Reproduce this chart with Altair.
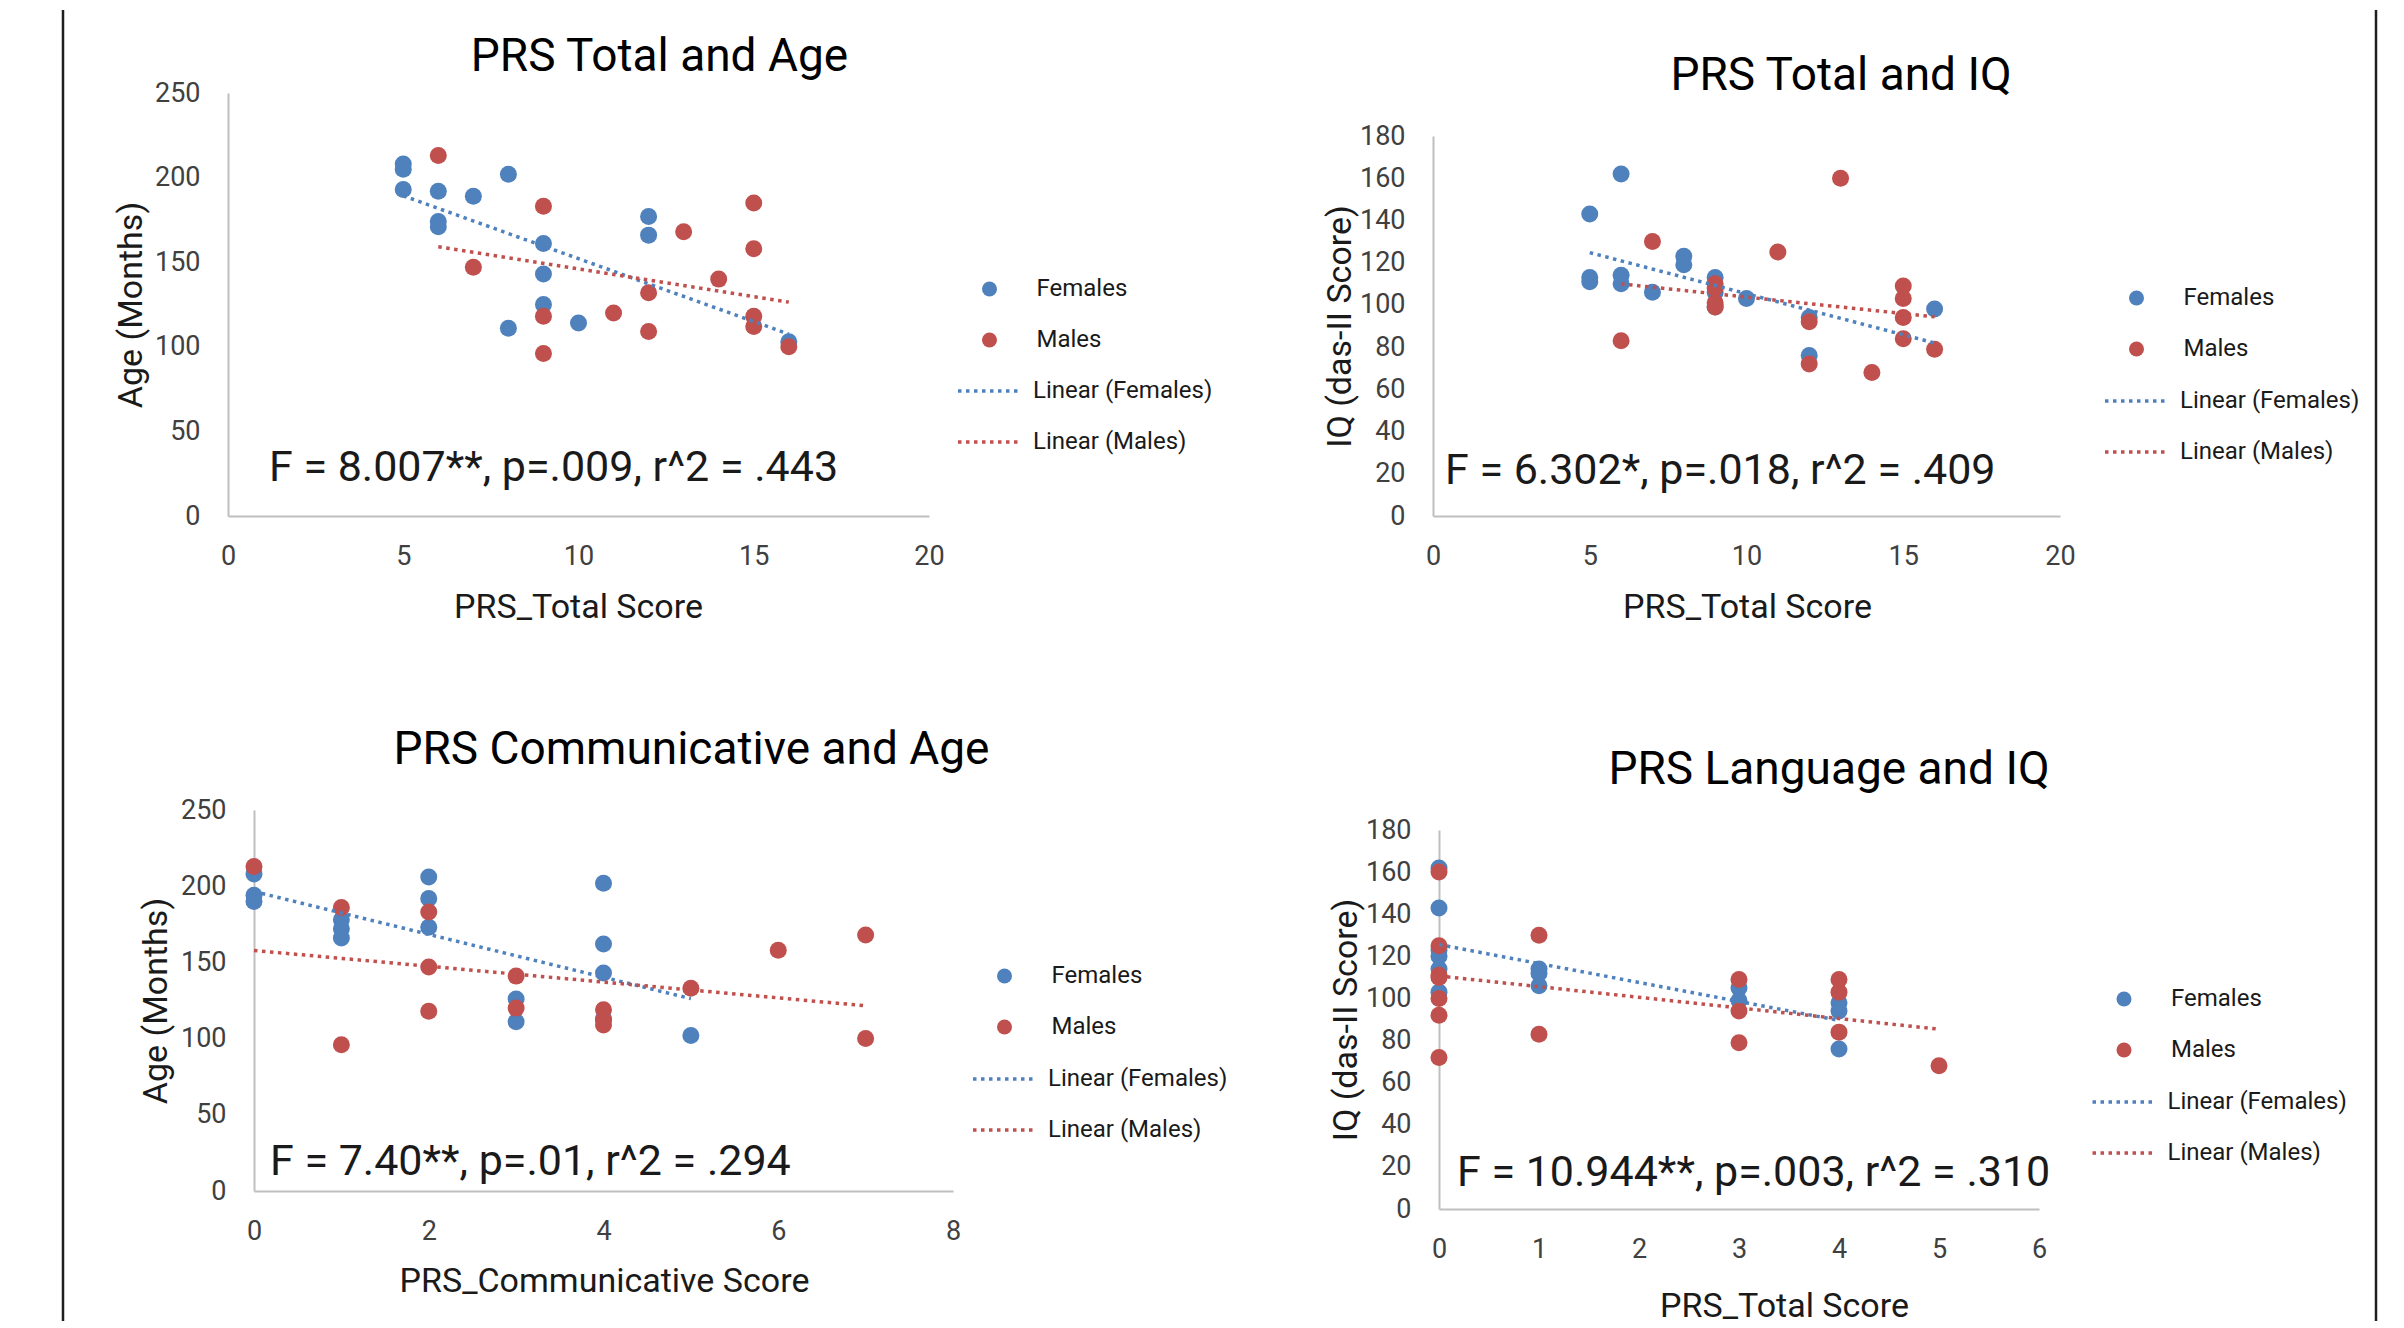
import altair as alt
import pandas as pd

BLUE = "#4F81BD"
RED = "#C0504D"
FONT = "Roboto"

# ---------------- data ----------------
# Panel 1: PRS Total and Age
p1_f_x = [5, 5, 5, 6, 6, 6, 7, 8, 8, 9, 9, 9, 10, 12, 12, 16]
p1_f_y = [208, 205, 193, 192, 174, 171, 189, 202, 111, 161, 143, 125, 114, 177, 166, 103]
p1_m_x = [6, 7, 9, 9, 9, 11, 12, 12, 13, 14, 15, 15, 15, 15, 16]
p1_m_y = [213, 147, 183, 118, 96, 120, 132, 109, 168, 140, 185, 158, 118, 112, 100]

# Panel 2: PRS Total and IQ
p2_f_x = [5, 5, 5, 6, 6, 6, 7, 8, 8, 9, 9, 9, 10, 12, 12, 16]
p2_f_y = [143, 113, 111, 162, 114, 110, 106, 123, 119, 113, 106, 99, 103, 94, 76, 98]
p2_m_x = [6, 7, 9, 9, 9, 9, 11, 12, 12, 13, 14, 15, 15, 15, 15, 16]
p2_m_y = [83, 130, 110, 108, 101, 99, 125, 92, 72, 160, 68, 109, 103, 94, 84, 79]

# Panel 3: PRS Communicative and Age
p3_f_x = [0, 0, 0, 1, 1, 1, 2, 2, 2, 3, 3, 4, 4, 4, 4, 5]
p3_f_y = [208, 194, 190, 178, 172, 166, 206, 192, 173, 126, 111, 202, 162, 143, 113, 102]
p3_m_x = [0, 1, 1, 2, 2, 2, 3, 3, 4, 4, 4, 5, 6, 7, 7]
p3_m_y = [213, 186, 96, 183, 147, 118, 141, 120, 119, 112, 109, 133, 158, 168, 100]

# Panel 4: PRS Language and IQ
p4_f_x = [0, 0, 0, 0, 0, 0, 1, 1, 1, 3, 3, 4, 4, 4]
p4_f_y = [162, 143, 123, 120, 114, 103, 114, 112, 106, 105, 99, 98, 94, 76]
p4_m_x = [0, 0, 0, 0, 0, 0, 0, 1, 1, 3, 3, 3, 4, 4, 4, 5]
p4_m_y = [160, 125, 111, 110, 100, 92, 72, 130, 83, 109, 94, 79, 109, 103, 84, 68]

titles = ["PRS Total and Age", "PRS Total and IQ",
          "PRS Communicative and Age", "PRS Language and IQ"]
x_titles = ["PRS_Total Score", "PRS_Total Score",
            "PRS_Communicative Score", "PRS_Total Score"]
y_titles = ["Age (Months)", "IQ (das-II Score)", "Age (Months)", "IQ (das-II Score)"]
stats = ["F = 8.007**, p=.009, r^2 = .443",
         "F = 6.302*, p=.018, r^2 = .409",
         "F = 7.40**, p=.01, r^2 = .294",
         "F = 10.944**, p=.003, r^2 = .310"]
x_ticks = [[0, 5, 10, 15, 20], [0, 5, 10, 15, 20], [0, 2, 4, 6, 8], [0, 1, 2, 3, 4, 5, 6]]
y_ticks = [[0, 50, 100, 150, 200, 250], list(range(0, 181, 20)),
           [0, 50, 100, 150, 200, 250], list(range(0, 181, 20))]
series_names = ["Females", "Males"]
trend_names = ["Linear (Females)", "Linear (Males)"]


def make_panel(fx, fy, mx, my, k, W, H, xr, yr, yoff, tx, ty,
               xtX, xtY, ytX, annx, anny, lpx, lpy, llx, lly, rule_x=None):
    df = pd.DataFrame({
        "x": fx + mx,
        "y": fy + my,
        "series": [series_names[0]] * len(fx) + [series_names[1]] * len(mx),
    })
    xt = x_ticks[k]
    yt = y_ticks[k]
    xs = alt.Scale(domain=[xt[0], xt[-1]], range=xr, nice=False, zero=False)
    ys = alt.Scale(domain=[yt[0], yt[-1]], range=yr, nice=False, zero=False)
    xaxis = alt.Axis(values=xt, grid=False, ticks=False, domainColor="#BFBFBF",
                     domainWidth=2, labelFontSize=27, labelColor="#404040",
                     labelPadding=27, labelFlush=False, labelOverlap=False,
                     title=x_titles[k], titleFontSize=34, titleFontWeight="normal",
                     titleColor="#1a1a1a", titleX=xtX, titleY=xtY,
                     titleBaseline="middle")
    yaxis = alt.Axis(values=yt, grid=False, ticks=False, domainColor="#BFBFBF",
                     domainWidth=2, labelFontSize=27, labelColor="#404040",
                     labelPadding=28, labelOverlap=False, offset=yoff,
                     title=y_titles[k], titleFontSize=34, titleFontWeight="normal",
                     titleColor="#1a1a1a", titleX=ytX, titleBaseline="middle")
    X = alt.X("x:Q", scale=xs, axis=xaxis)
    Y = alt.Y("y:Q", scale=ys, axis=yaxis)
    base = alt.Chart(df)
    pts = base.mark_circle(size=289, opacity=1).encode(
        x=X, y=Y,
        color=alt.Color("series:N",
                        scale=alt.Scale(domain=series_names, range=[BLUE, RED]),
                        legend=alt.Legend(title=None, orient="none", legendX=lpx,
                                          legendY=lpy, symbolType="circle",
                                          symbolSize=225, symbolStrokeWidth=0,
                                          labelFontSize=24, labelColor="#1a1a1a",
                                          labelOffset=35, rowPadding=27, padding=0,
                                          clipHeight=24, labelLimit=400)),
    )
    lines = base.transform_regression(
        "x", "y", groupby=["series"]
    ).transform_calculate(
        trend="'Linear (' + datum.series + ')'"
    ).mark_line(strokeWidth=3.5, strokeDash=[3.5, 4.5]).encode(
        x=X, y=Y,
        stroke=alt.Stroke("trend:N",
                          scale=alt.Scale(domain=trend_names, range=[BLUE, RED]),
                          legend=alt.Legend(title=None, orient="none", legendX=llx,
                                            legendY=lly, symbolType="stroke",
                                            symbolSize=3969, symbolStrokeWidth=3.5,
                                            symbolDash=[3.5, 4.5], labelFontSize=24,
                                            labelColor="#1a1a1a", labelOffset=10,
                                            rowPadding=27, padding=0,
                                            clipHeight=24, labelLimit=400)),
    )
    ann = alt.Chart(pd.DataFrame({"t": [stats[k]]})).mark_text(
        align="left", baseline="alphabetic", fontSize=43, font=FONT, color="#1a1a1a"
    ).encode(text="t:N", x=alt.value(annx), y=alt.value(anny))
    ttl = alt.Chart(pd.DataFrame({"t": [titles[k]]})).mark_text(
        align="center", baseline="alphabetic", fontSize=46, font=FONT, color="#000000"
    ).encode(text="t:N", x=alt.value(tx), y=alt.value(ty))
    layers = [pts, lines, ann, ttl]
    if rule_x is not None:
        rule = alt.Chart(pd.DataFrame({"r": [0]})).mark_rule(
            color="#1f1f1f", strokeWidth=2.5
        ).encode(x=alt.value(rule_x), y=alt.value(-83), y2=alt.value(1228))
        layers.append(rule)
    return alt.layer(*layers).properties(width=W, height=H)


p1 = make_panel(p1_f_x, p1_f_y, p1_m_x, p1_m_y, 0, 701, 423, [0, 701], [423, 0], 0,
                431.5, -22, 350, 91, -97, 41, 388, 749.5, 184, 728, 286, rule_x=-165)
p2 = make_panel(p2_f_x, p2_f_y, p2_m_x, p2_m_y, 1, 627, 423, [0, 627], [423, 43], 0,
                408, -3, 314, 91, -93, 12, 391, 691.5, 193, 670, 296, rule_x=943)
p3 = make_panel(p3_f_x, p3_f_y, p3_m_x, p3_m_y, 2, 725, 381, [26, 725], [381, 0], -26,
                463.5, -46, 376, 90, -98, 42, 365, 764.5, 154, 743, 257)
p4 = make_panel(p4_f_x, p4_f_y, p4_m_x, p4_m_y, 3, 606, 399, [6, 606], [399, 20], -6,
                396, -26, 351, 97, -93, 24, 376, 679, 177, 657.5, 280)

chart = alt.concat(
    p1, p2, p3, p4, columns=2, spacing={"row": 294, "column": 480}, bounds="flush"
).resolve_scale(
    x="independent", y="independent", color="independent", stroke="independent"
).resolve_legend(
    color="independent", stroke="independent"
).properties(
    padding={"left": 53, "top": 0, "right": 4, "bottom": 0},
    background="white",
).configure_view(
    stroke=None
).configure_axis(
    labelFont=FONT, titleFont=FONT
).configure_legend(
    labelFont=FONT
)

chart.save("out.html", embed_options={"renderer": "svg", "actions": False})
